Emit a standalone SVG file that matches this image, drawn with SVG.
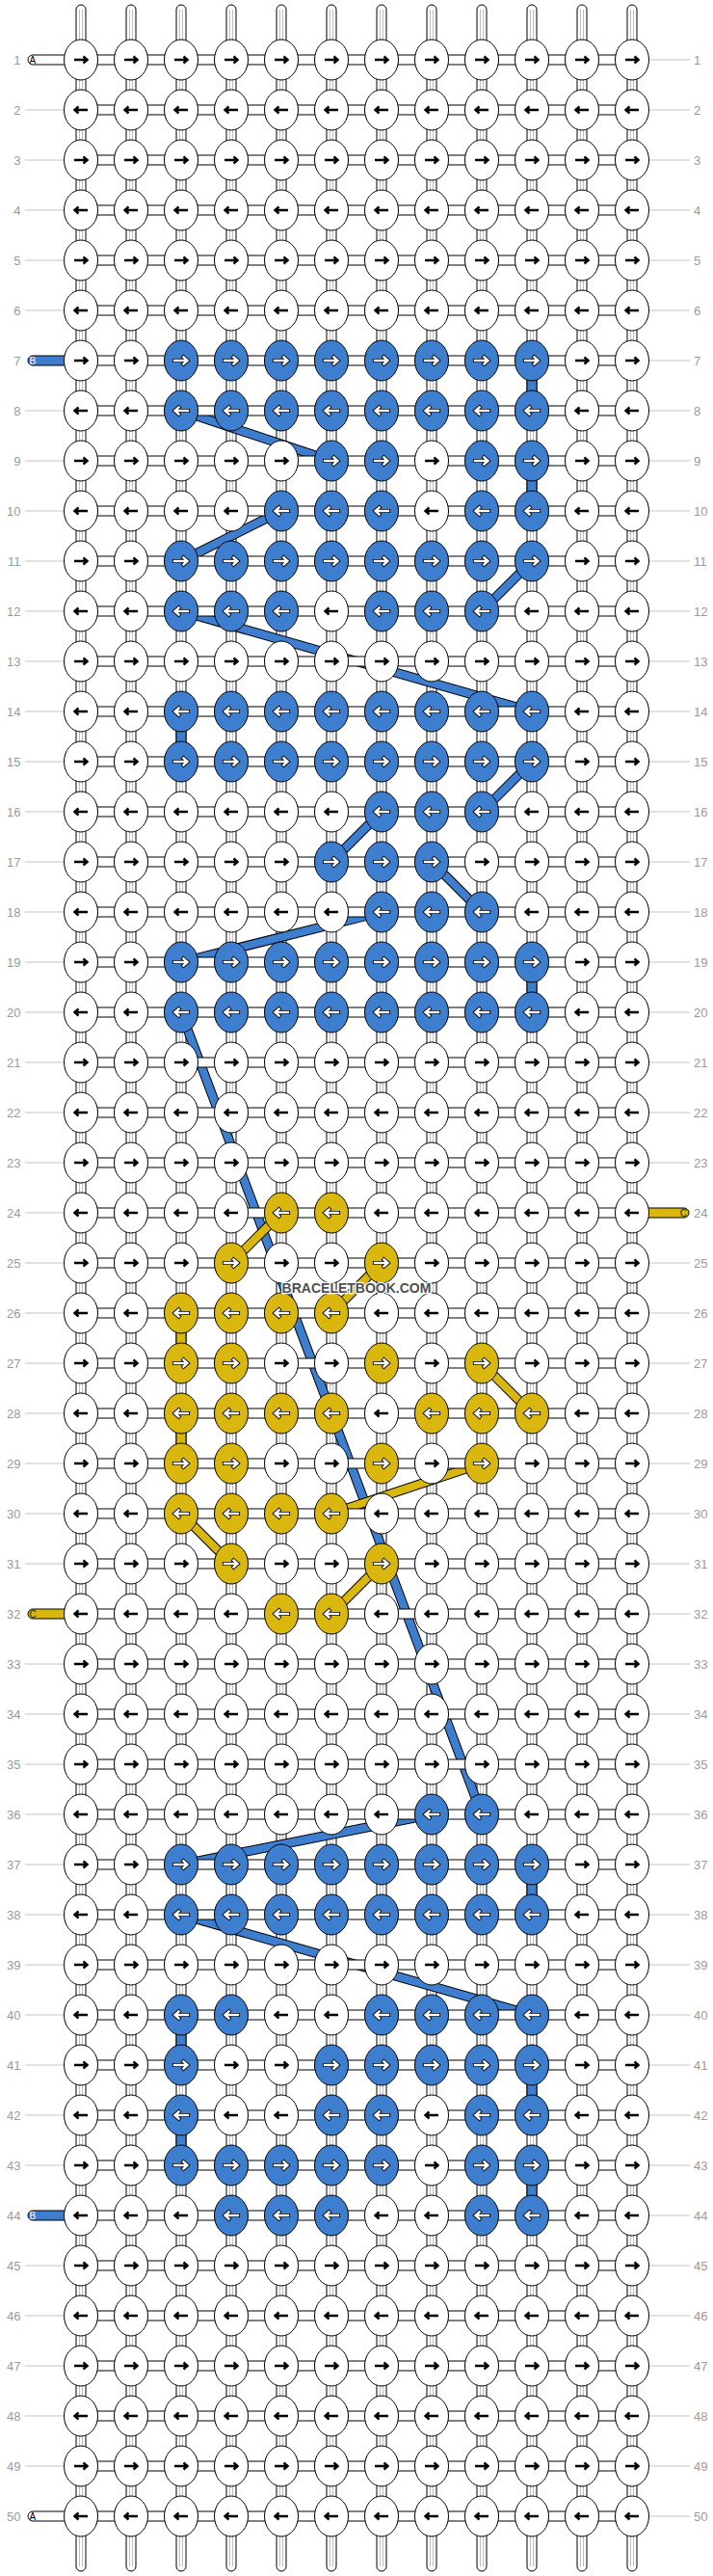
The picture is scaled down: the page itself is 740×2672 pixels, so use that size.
<svg xmlns="http://www.w3.org/2000/svg" width="740" height="2672" viewBox="0 0 740 2672">
<style>
.th{fill:#fff;stroke:#000;stroke-width:1}
.gl{stroke:#bdbdbd;stroke-width:1;fill:none}
.ll{stroke:#c4c4c4;stroke-width:1;fill:none}
.lbl{font-family:"Liberation Sans",Arial,sans-serif;font-size:13px;fill:#9a9a9a}
.ke{stroke:#000;stroke-width:1}
.ak{fill:none;stroke:#000;stroke-width:2.4}
.ao{fill:none;stroke:#000;stroke-width:4.2;stroke-linecap:square}
.ai{fill:none;stroke:#fff;stroke-width:2.4;stroke-linecap:square}
.ol{stroke:#000;stroke-width:10;fill:none}
.bl{stroke:#3e7ecf;stroke-width:8;fill:none}
.yl{stroke:#dab70f;stroke-width:8;fill:none}
.vb{fill:#3e7ecf;stroke:#000;stroke-width:1}
.vy{fill:#dab70f;stroke:#000;stroke-width:1}
.tag{font-family:"Liberation Sans",Arial,sans-serif;font-size:10px}
</style>
<defs>
<path id="pR" d="M-7 0H6M2.5-3.5L6.5 0L2.5 3.5"/>
<path id="pL" d="M7 0H-6M-2.5-3.5L-6.5 0L-2.5 3.5"/>
<g id="wR"><ellipse rx="17.5" ry="21" fill="#fff" class="ke"/><use href="#pR" class="ak"/></g>
<g id="wL"><ellipse rx="17.5" ry="21" fill="#fff" class="ke"/><use href="#pL" class="ak"/></g>
<g id="bR"><ellipse rx="17.5" ry="21" fill="#3e7ecf" class="ke"/><use href="#pR" class="ao"/><use href="#pR" class="ai"/></g>
<g id="bL"><ellipse rx="17.5" ry="21" fill="#3e7ecf" class="ke"/><use href="#pL" class="ao"/><use href="#pL" class="ai"/></g>
<g id="yR"><ellipse rx="17.5" ry="21" fill="#dab70f" class="ke"/><use href="#pR" class="ao"/><use href="#pR" class="ai"/></g>
<g id="yL"><ellipse rx="17.5" ry="21" fill="#dab70f" class="ke"/><use href="#pL" class="ao"/><use href="#pL" class="ai"/></g>
</defs>
<rect width="740" height="2672" fill="#fff"/>
<g id="row-labels">
<path class="ll" d="M26 114H67M26 166H67M26 218H67M26 270H67M26 322H67M26 426H67M26 478H67M26 530H67M26 582H67M26 634H67M26 686H67M26 738H67M26 790H67M26 842H67M26 894H67M26 946H67M26 998H67M26 1050H67M26 1102H67M26 1154H67M26 1206H67M26 1258H67M26 1310H67M26 1362H67M26 1414H67M26 1466H67M26 1518H67M26 1570H67M26 1622H67M26 1726H67M26 1778H67M26 1830H67M26 1882H67M26 1934H67M26 1986H67M26 2038H67M26 2090H67M26 2142H67M26 2194H67M26 2246H67M26 2350H67M26 2402H67M26 2454H67M26 2506H67M26 2558H67"/>
<path class="ll" d="M673 62H716M673 114H716M673 166H716M673 218H716M673 270H716M673 322H716M673 374H716M673 426H716M673 478H716M673 530H716M673 582H716M673 634H716M673 686H716M673 738H716M673 790H716M673 842H716M673 894H716M673 946H716M673 998H716M673 1050H716M673 1102H716M673 1154H716M673 1206H716M673 1310H716M673 1362H716M673 1414H716M673 1466H716M673 1518H716M673 1570H716M673 1622H716M673 1674H716M673 1726H716M673 1778H716M673 1830H716M673 1882H716M673 1934H716M673 1986H716M673 2038H716M673 2090H716M673 2142H716M673 2194H716M673 2246H716M673 2298H716M673 2350H716M673 2402H716M673 2454H716M673 2506H716M673 2558H716M673 2610H716"/>
<g class="lbl" text-anchor="end">
<text x="21.5" y="66.5">1</text><text x="21.5" y="118.5">2</text><text x="21.5" y="170.5">3</text><text x="21.5" y="222.5">4</text><text x="21.5" y="274.5">5</text><text x="21.5" y="326.5">6</text><text x="21.5" y="378.5">7</text><text x="21.5" y="430.5">8</text><text x="21.5" y="482.5">9</text><text x="21.5" y="534.5">10</text>
<text x="21.5" y="586.5">11</text><text x="21.5" y="638.5">12</text><text x="21.5" y="690.5">13</text><text x="21.5" y="742.5">14</text><text x="21.5" y="794.5">15</text><text x="21.5" y="846.5">16</text><text x="21.5" y="898.5">17</text><text x="21.5" y="950.5">18</text><text x="21.5" y="1002.5">19</text><text x="21.5" y="1054.5">20</text>
<text x="21.5" y="1106.5">21</text><text x="21.5" y="1158.5">22</text><text x="21.5" y="1210.5">23</text><text x="21.5" y="1262.5">24</text><text x="21.5" y="1314.5">25</text><text x="21.5" y="1366.5">26</text><text x="21.5" y="1418.5">27</text><text x="21.5" y="1470.5">28</text><text x="21.5" y="1522.5">29</text><text x="21.5" y="1574.5">30</text>
<text x="21.5" y="1626.5">31</text><text x="21.5" y="1678.5">32</text><text x="21.5" y="1730.5">33</text><text x="21.5" y="1782.5">34</text><text x="21.5" y="1834.5">35</text><text x="21.5" y="1886.5">36</text><text x="21.5" y="1938.5">37</text><text x="21.5" y="1990.5">38</text><text x="21.5" y="2042.5">39</text><text x="21.5" y="2094.5">40</text>
<text x="21.5" y="2146.5">41</text><text x="21.5" y="2198.5">42</text><text x="21.5" y="2250.5">43</text><text x="21.5" y="2302.5">44</text><text x="21.5" y="2354.5">45</text><text x="21.5" y="2406.5">46</text><text x="21.5" y="2458.5">47</text><text x="21.5" y="2510.5">48</text><text x="21.5" y="2562.5">49</text><text x="21.5" y="2614.5">50</text>
</g>
<g class="lbl">
<text x="720" y="66.5">1</text><text x="720" y="118.5">2</text><text x="720" y="170.5">3</text><text x="720" y="222.5">4</text><text x="720" y="274.5">5</text><text x="720" y="326.5">6</text><text x="720" y="378.5">7</text><text x="720" y="430.5">8</text><text x="720" y="482.5">9</text><text x="720" y="534.5">10</text>
<text x="720" y="586.5">11</text><text x="720" y="638.5">12</text><text x="720" y="690.5">13</text><text x="720" y="742.5">14</text><text x="720" y="794.5">15</text><text x="720" y="846.5">16</text><text x="720" y="898.5">17</text><text x="720" y="950.5">18</text><text x="720" y="1002.5">19</text><text x="720" y="1054.5">20</text>
<text x="720" y="1106.5">21</text><text x="720" y="1158.5">22</text><text x="720" y="1210.5">23</text><text x="720" y="1262.5">24</text><text x="720" y="1314.5">25</text><text x="720" y="1366.5">26</text><text x="720" y="1418.5">27</text><text x="720" y="1470.5">28</text><text x="720" y="1522.5">29</text><text x="720" y="1574.5">30</text>
<text x="720" y="1626.5">31</text><text x="720" y="1678.5">32</text><text x="720" y="1730.5">33</text><text x="720" y="1782.5">34</text><text x="720" y="1834.5">35</text><text x="720" y="1886.5">36</text><text x="720" y="1938.5">37</text><text x="720" y="1990.5">38</text><text x="720" y="2042.5">39</text><text x="720" y="2094.5">40</text>
<text x="720" y="2146.5">41</text><text x="720" y="2198.5">42</text><text x="720" y="2250.5">43</text><text x="720" y="2302.5">44</text><text x="720" y="2354.5">45</text><text x="720" y="2406.5">46</text><text x="720" y="2458.5">47</text><text x="720" y="2510.5">48</text><text x="720" y="2562.5">49</text><text x="720" y="2614.5">50</text>
</g>
</g>
<g id="vertical-threads">
<rect class="th" x="79" y="5" width="10" height="2662" rx="5"/><rect class="th" x="131" y="5" width="10" height="2662" rx="5"/><rect class="th" x="183" y="5" width="10" height="2662" rx="5"/><rect class="th" x="235" y="5" width="10" height="2662" rx="5"/><rect class="th" x="287" y="5" width="10" height="2662" rx="5"/><rect class="th" x="339" y="5" width="10" height="2662" rx="5"/><rect class="th" x="391" y="5" width="10" height="2662" rx="5"/><rect class="th" x="443" y="5" width="10" height="2662" rx="5"/><rect class="th" x="495" y="5" width="10" height="2662" rx="5"/><rect class="th" x="547" y="5" width="10" height="2662" rx="5"/><rect class="th" x="599" y="5" width="10" height="2662" rx="5"/><rect class="th" x="651" y="5" width="10" height="2662" rx="5"/>
<path class="gl" d="M82.5 10V2662M85.5 10V2662M134.5 10V2662M137.5 10V2662M186.5 10V2662M189.5 10V2662M238.5 10V2662M241.5 10V2662M290.5 10V2662M293.5 10V2662M342.5 10V2662M345.5 10V2662M394.5 10V2662M397.5 10V2662M446.5 10V2662M449.5 10V2662M498.5 10V2662M501.5 10V2662M550.5 10V2662M553.5 10V2662M602.5 10V2662M605.5 10V2662M654.5 10V2662M657.5 10V2662"/>
</g>
<g id="connectors">
<g id="blue-path">
<path class="ol" d="M188 426L344 478M292 530L188 582M552 582L500 634M188 634L552 738M552 790L500 842M396 842L344 894M448 894L500 946M396 946L188 998M188 1050L500 1882M448 1882L188 1934M188 1986L552 2090"/>
<path class="bl" d="M188 426L344 478M292 530L188 582M552 582L500 634M188 634L552 738M552 790L500 842M396 842L344 894M448 894L500 946M396 946L188 998M188 1050L500 1882M448 1882L188 1934M188 1986L552 2090"/>
</g>
<g id="yellow-path">
<path class="ol" d="M292 1258L240 1310M396 1310L344 1362M500 1414L552 1466M500 1518L344 1570M188 1570L240 1622M396 1622L344 1674"/>
<path class="yl" d="M292 1258L240 1310M396 1310L344 1362M500 1414L552 1466M500 1518L344 1570M188 1570L240 1622M396 1622L344 1674"/>
</g>
</g>
<g id="horizontal-threads">
<rect class="th" x="84" y="57" width="572" height="10"/><rect class="th" x="84" y="109" width="572" height="10"/><rect class="th" x="84" y="161" width="572" height="10"/><rect class="th" x="84" y="213" width="572" height="10"/><rect class="th" x="84" y="265" width="572" height="10"/><rect class="th" x="84" y="317" width="572" height="10"/><rect class="th" x="84" y="369" width="572" height="10"/><rect class="th" x="84" y="421" width="572" height="10"/><rect class="th" x="84" y="473" width="572" height="10"/><rect class="th" x="84" y="525" width="572" height="10"/>
<rect class="th" x="84" y="577" width="572" height="10"/><rect class="th" x="84" y="629" width="572" height="10"/><rect class="th" x="84" y="681" width="572" height="10"/><rect class="th" x="84" y="733" width="572" height="10"/><rect class="th" x="84" y="785" width="572" height="10"/><rect class="th" x="84" y="837" width="572" height="10"/><rect class="th" x="84" y="889" width="572" height="10"/><rect class="th" x="84" y="941" width="572" height="10"/><rect class="th" x="84" y="993" width="572" height="10"/><rect class="th" x="84" y="1045" width="572" height="10"/>
<rect class="th" x="84" y="1097" width="572" height="10"/><rect class="th" x="84" y="1149" width="572" height="10"/><rect class="th" x="84" y="1201" width="572" height="10"/><rect class="th" x="84" y="1253" width="572" height="10"/><rect class="th" x="84" y="1305" width="572" height="10"/><rect class="th" x="84" y="1357" width="572" height="10"/><rect class="th" x="84" y="1409" width="572" height="10"/><rect class="th" x="84" y="1461" width="572" height="10"/><rect class="th" x="84" y="1513" width="572" height="10"/><rect class="th" x="84" y="1565" width="572" height="10"/>
<rect class="th" x="84" y="1617" width="572" height="10"/><rect class="th" x="84" y="1669" width="572" height="10"/><rect class="th" x="84" y="1721" width="572" height="10"/><rect class="th" x="84" y="1773" width="572" height="10"/><rect class="th" x="84" y="1825" width="572" height="10"/><rect class="th" x="84" y="1877" width="572" height="10"/><rect class="th" x="84" y="1929" width="572" height="10"/><rect class="th" x="84" y="1981" width="572" height="10"/><rect class="th" x="84" y="2033" width="572" height="10"/><rect class="th" x="84" y="2085" width="572" height="10"/>
<rect class="th" x="84" y="2137" width="572" height="10"/><rect class="th" x="84" y="2189" width="572" height="10"/><rect class="th" x="84" y="2241" width="572" height="10"/><rect class="th" x="84" y="2293" width="572" height="10"/><rect class="th" x="84" y="2345" width="572" height="10"/><rect class="th" x="84" y="2397" width="572" height="10"/><rect class="th" x="84" y="2449" width="572" height="10"/><rect class="th" x="84" y="2501" width="572" height="10"/><rect class="th" x="84" y="2553" width="572" height="10"/><rect class="th" x="84" y="2605" width="572" height="10"/>
</g>
<g id="turns">
<rect class="vb" x="547" y="374" width="10" height="52"/><rect class="vb" x="547" y="478" width="10" height="52"/><rect class="vb" x="183" y="738" width="10" height="52"/><rect class="vb" x="547" y="998" width="10" height="52"/><rect class="vb" x="547" y="1934" width="10" height="52"/><rect class="vb" x="183" y="2090" width="10" height="52"/><rect class="vb" x="547" y="2142" width="10" height="52"/><rect class="vb" x="183" y="2194" width="10" height="52"/><rect class="vb" x="547" y="2246" width="10" height="52"/>
<rect class="vy" x="183" y="1362" width="10" height="52"/><rect class="vy" x="183" y="1466" width="10" height="52"/>
</g>
<g id="thread-tags">
<g id="tag-a1"><rect class="th" x="29" y="57" width="60" height="10" rx="5"/><text class="tag" x="30.5" y="65.6" fill="#000">A</text></g>
<g id="tag-b7"><rect class="vb" x="29" y="369" width="60" height="10" rx="5"/><text class="tag" x="30.5" y="377.6" fill="#fff">B</text></g>
<g id="tag-c24"><rect class="vy" x="651" y="1253" width="64" height="10" rx="5"/><text class="tag" x="713" y="1261.6" fill="#222" text-anchor="end">C</text></g>
<g id="tag-c32"><rect class="vy" x="29" y="1669" width="60" height="10" rx="5"/><text class="tag" x="30.5" y="1677.6" fill="#222">C</text></g>
<g id="tag-b44"><rect class="vb" x="29" y="2293" width="60" height="10" rx="5"/><text class="tag" x="30.5" y="2301.6" fill="#fff">B</text></g>
<g id="tag-a50"><rect class="th" x="29" y="2605" width="60" height="10" rx="5"/><text class="tag" x="30.5" y="2613.6" fill="#000">A</text></g>
</g>
<g id="knots">
<g transform="translate(0 62)"><g id="n1-1"><use href="#wR" x="84"/></g><g id="n1-2"><use href="#wR" x="136"/></g><g id="n1-3"><use href="#wR" x="188"/></g><g id="n1-4"><use href="#wR" x="240"/></g><g id="n1-5"><use href="#wR" x="292"/></g><g id="n1-6"><use href="#wR" x="344"/></g><g id="n1-7"><use href="#wR" x="396"/></g><g id="n1-8"><use href="#wR" x="448"/></g><g id="n1-9"><use href="#wR" x="500"/></g><g id="n1-10"><use href="#wR" x="552"/></g><g id="n1-11"><use href="#wR" x="604"/></g><g id="n1-12"><use href="#wR" x="656"/></g></g>
<g transform="translate(0 114)"><g id="n2-1"><use href="#wL" x="84"/></g><g id="n2-2"><use href="#wL" x="136"/></g><g id="n2-3"><use href="#wL" x="188"/></g><g id="n2-4"><use href="#wL" x="240"/></g><g id="n2-5"><use href="#wL" x="292"/></g><g id="n2-6"><use href="#wL" x="344"/></g><g id="n2-7"><use href="#wL" x="396"/></g><g id="n2-8"><use href="#wL" x="448"/></g><g id="n2-9"><use href="#wL" x="500"/></g><g id="n2-10"><use href="#wL" x="552"/></g><g id="n2-11"><use href="#wL" x="604"/></g><g id="n2-12"><use href="#wL" x="656"/></g></g>
<g transform="translate(0 166)"><g id="n3-1"><use href="#wR" x="84"/></g><g id="n3-2"><use href="#wR" x="136"/></g><g id="n3-3"><use href="#wR" x="188"/></g><g id="n3-4"><use href="#wR" x="240"/></g><g id="n3-5"><use href="#wR" x="292"/></g><g id="n3-6"><use href="#wR" x="344"/></g><g id="n3-7"><use href="#wR" x="396"/></g><g id="n3-8"><use href="#wR" x="448"/></g><g id="n3-9"><use href="#wR" x="500"/></g><g id="n3-10"><use href="#wR" x="552"/></g><g id="n3-11"><use href="#wR" x="604"/></g><g id="n3-12"><use href="#wR" x="656"/></g></g>
<g transform="translate(0 218)"><g id="n4-1"><use href="#wL" x="84"/></g><g id="n4-2"><use href="#wL" x="136"/></g><g id="n4-3"><use href="#wL" x="188"/></g><g id="n4-4"><use href="#wL" x="240"/></g><g id="n4-5"><use href="#wL" x="292"/></g><g id="n4-6"><use href="#wL" x="344"/></g><g id="n4-7"><use href="#wL" x="396"/></g><g id="n4-8"><use href="#wL" x="448"/></g><g id="n4-9"><use href="#wL" x="500"/></g><g id="n4-10"><use href="#wL" x="552"/></g><g id="n4-11"><use href="#wL" x="604"/></g><g id="n4-12"><use href="#wL" x="656"/></g></g>
<g transform="translate(0 270)"><g id="n5-1"><use href="#wR" x="84"/></g><g id="n5-2"><use href="#wR" x="136"/></g><g id="n5-3"><use href="#wR" x="188"/></g><g id="n5-4"><use href="#wR" x="240"/></g><g id="n5-5"><use href="#wR" x="292"/></g><g id="n5-6"><use href="#wR" x="344"/></g><g id="n5-7"><use href="#wR" x="396"/></g><g id="n5-8"><use href="#wR" x="448"/></g><g id="n5-9"><use href="#wR" x="500"/></g><g id="n5-10"><use href="#wR" x="552"/></g><g id="n5-11"><use href="#wR" x="604"/></g><g id="n5-12"><use href="#wR" x="656"/></g></g>
<g transform="translate(0 322)"><g id="n6-1"><use href="#wL" x="84"/></g><g id="n6-2"><use href="#wL" x="136"/></g><g id="n6-3"><use href="#wL" x="188"/></g><g id="n6-4"><use href="#wL" x="240"/></g><g id="n6-5"><use href="#wL" x="292"/></g><g id="n6-6"><use href="#wL" x="344"/></g><g id="n6-7"><use href="#wL" x="396"/></g><g id="n6-8"><use href="#wL" x="448"/></g><g id="n6-9"><use href="#wL" x="500"/></g><g id="n6-10"><use href="#wL" x="552"/></g><g id="n6-11"><use href="#wL" x="604"/></g><g id="n6-12"><use href="#wL" x="656"/></g></g>
<g transform="translate(0 374)"><g id="n7-1"><use href="#wR" x="84"/></g><g id="n7-2"><use href="#wR" x="136"/></g><g id="n7-3"><use href="#bR" x="188"/></g><g id="n7-4"><use href="#bR" x="240"/></g><g id="n7-5"><use href="#bR" x="292"/></g><g id="n7-6"><use href="#bR" x="344"/></g><g id="n7-7"><use href="#bR" x="396"/></g><g id="n7-8"><use href="#bR" x="448"/></g><g id="n7-9"><use href="#bR" x="500"/></g><g id="n7-10"><use href="#bR" x="552"/></g><g id="n7-11"><use href="#wR" x="604"/></g><g id="n7-12"><use href="#wR" x="656"/></g></g>
<g transform="translate(0 426)"><g id="n8-1"><use href="#wL" x="84"/></g><g id="n8-2"><use href="#wL" x="136"/></g><g id="n8-3"><use href="#bL" x="188"/></g><g id="n8-4"><use href="#bL" x="240"/></g><g id="n8-5"><use href="#bL" x="292"/></g><g id="n8-6"><use href="#bL" x="344"/></g><g id="n8-7"><use href="#bL" x="396"/></g><g id="n8-8"><use href="#bL" x="448"/></g><g id="n8-9"><use href="#bL" x="500"/></g><g id="n8-10"><use href="#bL" x="552"/></g><g id="n8-11"><use href="#wL" x="604"/></g><g id="n8-12"><use href="#wL" x="656"/></g></g>
<g transform="translate(0 478)"><g id="n9-1"><use href="#wR" x="84"/></g><g id="n9-2"><use href="#wR" x="136"/></g><g id="n9-3"><use href="#wR" x="188"/></g><g id="n9-4"><use href="#wR" x="240"/></g><g id="n9-5"><use href="#wR" x="292"/></g><g id="n9-6"><use href="#bR" x="344"/></g><g id="n9-7"><use href="#bR" x="396"/></g><g id="n9-8"><use href="#wR" x="448"/></g><g id="n9-9"><use href="#bR" x="500"/></g><g id="n9-10"><use href="#bR" x="552"/></g><g id="n9-11"><use href="#wR" x="604"/></g><g id="n9-12"><use href="#wR" x="656"/></g></g>
<g transform="translate(0 530)"><g id="n10-1"><use href="#wL" x="84"/></g><g id="n10-2"><use href="#wL" x="136"/></g><g id="n10-3"><use href="#wL" x="188"/></g><g id="n10-4"><use href="#wL" x="240"/></g><g id="n10-5"><use href="#bL" x="292"/></g><g id="n10-6"><use href="#bL" x="344"/></g><g id="n10-7"><use href="#bL" x="396"/></g><g id="n10-8"><use href="#wL" x="448"/></g><g id="n10-9"><use href="#bL" x="500"/></g><g id="n10-10"><use href="#bL" x="552"/></g><g id="n10-11"><use href="#wL" x="604"/></g><g id="n10-12"><use href="#wL" x="656"/></g></g>
<g transform="translate(0 582)"><g id="n11-1"><use href="#wR" x="84"/></g><g id="n11-2"><use href="#wR" x="136"/></g><g id="n11-3"><use href="#bR" x="188"/></g><g id="n11-4"><use href="#bR" x="240"/></g><g id="n11-5"><use href="#bR" x="292"/></g><g id="n11-6"><use href="#bR" x="344"/></g><g id="n11-7"><use href="#bR" x="396"/></g><g id="n11-8"><use href="#bR" x="448"/></g><g id="n11-9"><use href="#bR" x="500"/></g><g id="n11-10"><use href="#bR" x="552"/></g><g id="n11-11"><use href="#wR" x="604"/></g><g id="n11-12"><use href="#wR" x="656"/></g></g>
<g transform="translate(0 634)"><g id="n12-1"><use href="#wL" x="84"/></g><g id="n12-2"><use href="#wL" x="136"/></g><g id="n12-3"><use href="#bL" x="188"/></g><g id="n12-4"><use href="#bL" x="240"/></g><g id="n12-5"><use href="#bL" x="292"/></g><g id="n12-6"><use href="#wL" x="344"/></g><g id="n12-7"><use href="#bL" x="396"/></g><g id="n12-8"><use href="#bL" x="448"/></g><g id="n12-9"><use href="#bL" x="500"/></g><g id="n12-10"><use href="#wL" x="552"/></g><g id="n12-11"><use href="#wL" x="604"/></g><g id="n12-12"><use href="#wL" x="656"/></g></g>
<g transform="translate(0 686)"><g id="n13-1"><use href="#wR" x="84"/></g><g id="n13-2"><use href="#wR" x="136"/></g><g id="n13-3"><use href="#wR" x="188"/></g><g id="n13-4"><use href="#wR" x="240"/></g><g id="n13-5"><use href="#wR" x="292"/></g><g id="n13-6"><use href="#wR" x="344"/></g><g id="n13-7"><use href="#wR" x="396"/></g><g id="n13-8"><use href="#wR" x="448"/></g><g id="n13-9"><use href="#wR" x="500"/></g><g id="n13-10"><use href="#wR" x="552"/></g><g id="n13-11"><use href="#wR" x="604"/></g><g id="n13-12"><use href="#wR" x="656"/></g></g>
<g transform="translate(0 738)"><g id="n14-1"><use href="#wL" x="84"/></g><g id="n14-2"><use href="#wL" x="136"/></g><g id="n14-3"><use href="#bL" x="188"/></g><g id="n14-4"><use href="#bL" x="240"/></g><g id="n14-5"><use href="#bL" x="292"/></g><g id="n14-6"><use href="#bL" x="344"/></g><g id="n14-7"><use href="#bL" x="396"/></g><g id="n14-8"><use href="#bL" x="448"/></g><g id="n14-9"><use href="#bL" x="500"/></g><g id="n14-10"><use href="#bL" x="552"/></g><g id="n14-11"><use href="#wL" x="604"/></g><g id="n14-12"><use href="#wL" x="656"/></g></g>
<g transform="translate(0 790)"><g id="n15-1"><use href="#wR" x="84"/></g><g id="n15-2"><use href="#wR" x="136"/></g><g id="n15-3"><use href="#bR" x="188"/></g><g id="n15-4"><use href="#bR" x="240"/></g><g id="n15-5"><use href="#bR" x="292"/></g><g id="n15-6"><use href="#bR" x="344"/></g><g id="n15-7"><use href="#bR" x="396"/></g><g id="n15-8"><use href="#bR" x="448"/></g><g id="n15-9"><use href="#bR" x="500"/></g><g id="n15-10"><use href="#bR" x="552"/></g><g id="n15-11"><use href="#wR" x="604"/></g><g id="n15-12"><use href="#wR" x="656"/></g></g>
<g transform="translate(0 842)"><g id="n16-1"><use href="#wL" x="84"/></g><g id="n16-2"><use href="#wL" x="136"/></g><g id="n16-3"><use href="#wL" x="188"/></g><g id="n16-4"><use href="#wL" x="240"/></g><g id="n16-5"><use href="#wL" x="292"/></g><g id="n16-6"><use href="#wL" x="344"/></g><g id="n16-7"><use href="#bL" x="396"/></g><g id="n16-8"><use href="#bL" x="448"/></g><g id="n16-9"><use href="#bL" x="500"/></g><g id="n16-10"><use href="#wL" x="552"/></g><g id="n16-11"><use href="#wL" x="604"/></g><g id="n16-12"><use href="#wL" x="656"/></g></g>
<g transform="translate(0 894)"><g id="n17-1"><use href="#wR" x="84"/></g><g id="n17-2"><use href="#wR" x="136"/></g><g id="n17-3"><use href="#wR" x="188"/></g><g id="n17-4"><use href="#wR" x="240"/></g><g id="n17-5"><use href="#wR" x="292"/></g><g id="n17-6"><use href="#bR" x="344"/></g><g id="n17-7"><use href="#bR" x="396"/></g><g id="n17-8"><use href="#bR" x="448"/></g><g id="n17-9"><use href="#wR" x="500"/></g><g id="n17-10"><use href="#wR" x="552"/></g><g id="n17-11"><use href="#wR" x="604"/></g><g id="n17-12"><use href="#wR" x="656"/></g></g>
<g transform="translate(0 946)"><g id="n18-1"><use href="#wL" x="84"/></g><g id="n18-2"><use href="#wL" x="136"/></g><g id="n18-3"><use href="#wL" x="188"/></g><g id="n18-4"><use href="#wL" x="240"/></g><g id="n18-5"><use href="#wL" x="292"/></g><g id="n18-6"><use href="#wL" x="344"/></g><g id="n18-7"><use href="#bL" x="396"/></g><g id="n18-8"><use href="#bL" x="448"/></g><g id="n18-9"><use href="#bL" x="500"/></g><g id="n18-10"><use href="#wL" x="552"/></g><g id="n18-11"><use href="#wL" x="604"/></g><g id="n18-12"><use href="#wL" x="656"/></g></g>
<g transform="translate(0 998)"><g id="n19-1"><use href="#wR" x="84"/></g><g id="n19-2"><use href="#wR" x="136"/></g><g id="n19-3"><use href="#bR" x="188"/></g><g id="n19-4"><use href="#bR" x="240"/></g><g id="n19-5"><use href="#bR" x="292"/></g><g id="n19-6"><use href="#bR" x="344"/></g><g id="n19-7"><use href="#bR" x="396"/></g><g id="n19-8"><use href="#bR" x="448"/></g><g id="n19-9"><use href="#bR" x="500"/></g><g id="n19-10"><use href="#bR" x="552"/></g><g id="n19-11"><use href="#wR" x="604"/></g><g id="n19-12"><use href="#wR" x="656"/></g></g>
<g transform="translate(0 1050)"><g id="n20-1"><use href="#wL" x="84"/></g><g id="n20-2"><use href="#wL" x="136"/></g><g id="n20-3"><use href="#bL" x="188"/></g><g id="n20-4"><use href="#bL" x="240"/></g><g id="n20-5"><use href="#bL" x="292"/></g><g id="n20-6"><use href="#bL" x="344"/></g><g id="n20-7"><use href="#bL" x="396"/></g><g id="n20-8"><use href="#bL" x="448"/></g><g id="n20-9"><use href="#bL" x="500"/></g><g id="n20-10"><use href="#bL" x="552"/></g><g id="n20-11"><use href="#wL" x="604"/></g><g id="n20-12"><use href="#wL" x="656"/></g></g>
<g transform="translate(0 1102)"><g id="n21-1"><use href="#wR" x="84"/></g><g id="n21-2"><use href="#wR" x="136"/></g><g id="n21-3"><use href="#wR" x="188"/></g><g id="n21-4"><use href="#wR" x="240"/></g><g id="n21-5"><use href="#wR" x="292"/></g><g id="n21-6"><use href="#wR" x="344"/></g><g id="n21-7"><use href="#wR" x="396"/></g><g id="n21-8"><use href="#wR" x="448"/></g><g id="n21-9"><use href="#wR" x="500"/></g><g id="n21-10"><use href="#wR" x="552"/></g><g id="n21-11"><use href="#wR" x="604"/></g><g id="n21-12"><use href="#wR" x="656"/></g></g>
<g transform="translate(0 1154)"><g id="n22-1"><use href="#wL" x="84"/></g><g id="n22-2"><use href="#wL" x="136"/></g><g id="n22-3"><use href="#wL" x="188"/></g><g id="n22-4"><use href="#wL" x="240"/></g><g id="n22-5"><use href="#wL" x="292"/></g><g id="n22-6"><use href="#wL" x="344"/></g><g id="n22-7"><use href="#wL" x="396"/></g><g id="n22-8"><use href="#wL" x="448"/></g><g id="n22-9"><use href="#wL" x="500"/></g><g id="n22-10"><use href="#wL" x="552"/></g><g id="n22-11"><use href="#wL" x="604"/></g><g id="n22-12"><use href="#wL" x="656"/></g></g>
<g transform="translate(0 1206)"><g id="n23-1"><use href="#wR" x="84"/></g><g id="n23-2"><use href="#wR" x="136"/></g><g id="n23-3"><use href="#wR" x="188"/></g><g id="n23-4"><use href="#wR" x="240"/></g><g id="n23-5"><use href="#wR" x="292"/></g><g id="n23-6"><use href="#wR" x="344"/></g><g id="n23-7"><use href="#wR" x="396"/></g><g id="n23-8"><use href="#wR" x="448"/></g><g id="n23-9"><use href="#wR" x="500"/></g><g id="n23-10"><use href="#wR" x="552"/></g><g id="n23-11"><use href="#wR" x="604"/></g><g id="n23-12"><use href="#wR" x="656"/></g></g>
<g transform="translate(0 1258)"><g id="n24-1"><use href="#wL" x="84"/></g><g id="n24-2"><use href="#wL" x="136"/></g><g id="n24-3"><use href="#wL" x="188"/></g><g id="n24-4"><use href="#wL" x="240"/></g><g id="n24-5"><use href="#yL" x="292"/></g><g id="n24-6"><use href="#yL" x="344"/></g><g id="n24-7"><use href="#wL" x="396"/></g><g id="n24-8"><use href="#wL" x="448"/></g><g id="n24-9"><use href="#wL" x="500"/></g><g id="n24-10"><use href="#wL" x="552"/></g><g id="n24-11"><use href="#wL" x="604"/></g><g id="n24-12"><use href="#wL" x="656"/></g></g>
<g transform="translate(0 1310)"><g id="n25-1"><use href="#wR" x="84"/></g><g id="n25-2"><use href="#wR" x="136"/></g><g id="n25-3"><use href="#wR" x="188"/></g><g id="n25-4"><use href="#yR" x="240"/></g><g id="n25-5"><use href="#wR" x="292"/></g><g id="n25-6"><use href="#wR" x="344"/></g><g id="n25-7"><use href="#yR" x="396"/></g><g id="n25-8"><use href="#wR" x="448"/></g><g id="n25-9"><use href="#wR" x="500"/></g><g id="n25-10"><use href="#wR" x="552"/></g><g id="n25-11"><use href="#wR" x="604"/></g><g id="n25-12"><use href="#wR" x="656"/></g></g>
<g transform="translate(0 1362)"><g id="n26-1"><use href="#wL" x="84"/></g><g id="n26-2"><use href="#wL" x="136"/></g><g id="n26-3"><use href="#yL" x="188"/></g><g id="n26-4"><use href="#yL" x="240"/></g><g id="n26-5"><use href="#yL" x="292"/></g><g id="n26-6"><use href="#yL" x="344"/></g><g id="n26-7"><use href="#wL" x="396"/></g><g id="n26-8"><use href="#wL" x="448"/></g><g id="n26-9"><use href="#wL" x="500"/></g><g id="n26-10"><use href="#wL" x="552"/></g><g id="n26-11"><use href="#wL" x="604"/></g><g id="n26-12"><use href="#wL" x="656"/></g></g>
<g transform="translate(0 1414)"><g id="n27-1"><use href="#wR" x="84"/></g><g id="n27-2"><use href="#wR" x="136"/></g><g id="n27-3"><use href="#yR" x="188"/></g><g id="n27-4"><use href="#yR" x="240"/></g><g id="n27-5"><use href="#wR" x="292"/></g><g id="n27-6"><use href="#wR" x="344"/></g><g id="n27-7"><use href="#yR" x="396"/></g><g id="n27-8"><use href="#wR" x="448"/></g><g id="n27-9"><use href="#yR" x="500"/></g><g id="n27-10"><use href="#wR" x="552"/></g><g id="n27-11"><use href="#wR" x="604"/></g><g id="n27-12"><use href="#wR" x="656"/></g></g>
<g transform="translate(0 1466)"><g id="n28-1"><use href="#wL" x="84"/></g><g id="n28-2"><use href="#wL" x="136"/></g><g id="n28-3"><use href="#yL" x="188"/></g><g id="n28-4"><use href="#yL" x="240"/></g><g id="n28-5"><use href="#yL" x="292"/></g><g id="n28-6"><use href="#yL" x="344"/></g><g id="n28-7"><use href="#wL" x="396"/></g><g id="n28-8"><use href="#yL" x="448"/></g><g id="n28-9"><use href="#yL" x="500"/></g><g id="n28-10"><use href="#yL" x="552"/></g><g id="n28-11"><use href="#wL" x="604"/></g><g id="n28-12"><use href="#wL" x="656"/></g></g>
<g transform="translate(0 1518)"><g id="n29-1"><use href="#wR" x="84"/></g><g id="n29-2"><use href="#wR" x="136"/></g><g id="n29-3"><use href="#yR" x="188"/></g><g id="n29-4"><use href="#yR" x="240"/></g><g id="n29-5"><use href="#wR" x="292"/></g><g id="n29-6"><use href="#wR" x="344"/></g><g id="n29-7"><use href="#yR" x="396"/></g><g id="n29-8"><use href="#wR" x="448"/></g><g id="n29-9"><use href="#yR" x="500"/></g><g id="n29-10"><use href="#wR" x="552"/></g><g id="n29-11"><use href="#wR" x="604"/></g><g id="n29-12"><use href="#wR" x="656"/></g></g>
<g transform="translate(0 1570)"><g id="n30-1"><use href="#wL" x="84"/></g><g id="n30-2"><use href="#wL" x="136"/></g><g id="n30-3"><use href="#yL" x="188"/></g><g id="n30-4"><use href="#yL" x="240"/></g><g id="n30-5"><use href="#yL" x="292"/></g><g id="n30-6"><use href="#yL" x="344"/></g><g id="n30-7"><use href="#wL" x="396"/></g><g id="n30-8"><use href="#wL" x="448"/></g><g id="n30-9"><use href="#wL" x="500"/></g><g id="n30-10"><use href="#wL" x="552"/></g><g id="n30-11"><use href="#wL" x="604"/></g><g id="n30-12"><use href="#wL" x="656"/></g></g>
<g transform="translate(0 1622)"><g id="n31-1"><use href="#wR" x="84"/></g><g id="n31-2"><use href="#wR" x="136"/></g><g id="n31-3"><use href="#wR" x="188"/></g><g id="n31-4"><use href="#yR" x="240"/></g><g id="n31-5"><use href="#wR" x="292"/></g><g id="n31-6"><use href="#wR" x="344"/></g><g id="n31-7"><use href="#yR" x="396"/></g><g id="n31-8"><use href="#wR" x="448"/></g><g id="n31-9"><use href="#wR" x="500"/></g><g id="n31-10"><use href="#wR" x="552"/></g><g id="n31-11"><use href="#wR" x="604"/></g><g id="n31-12"><use href="#wR" x="656"/></g></g>
<g transform="translate(0 1674)"><g id="n32-1"><use href="#wL" x="84"/></g><g id="n32-2"><use href="#wL" x="136"/></g><g id="n32-3"><use href="#wL" x="188"/></g><g id="n32-4"><use href="#wL" x="240"/></g><g id="n32-5"><use href="#yL" x="292"/></g><g id="n32-6"><use href="#yL" x="344"/></g><g id="n32-7"><use href="#wL" x="396"/></g><g id="n32-8"><use href="#wL" x="448"/></g><g id="n32-9"><use href="#wL" x="500"/></g><g id="n32-10"><use href="#wL" x="552"/></g><g id="n32-11"><use href="#wL" x="604"/></g><g id="n32-12"><use href="#wL" x="656"/></g></g>
<g transform="translate(0 1726)"><g id="n33-1"><use href="#wR" x="84"/></g><g id="n33-2"><use href="#wR" x="136"/></g><g id="n33-3"><use href="#wR" x="188"/></g><g id="n33-4"><use href="#wR" x="240"/></g><g id="n33-5"><use href="#wR" x="292"/></g><g id="n33-6"><use href="#wR" x="344"/></g><g id="n33-7"><use href="#wR" x="396"/></g><g id="n33-8"><use href="#wR" x="448"/></g><g id="n33-9"><use href="#wR" x="500"/></g><g id="n33-10"><use href="#wR" x="552"/></g><g id="n33-11"><use href="#wR" x="604"/></g><g id="n33-12"><use href="#wR" x="656"/></g></g>
<g transform="translate(0 1778)"><g id="n34-1"><use href="#wL" x="84"/></g><g id="n34-2"><use href="#wL" x="136"/></g><g id="n34-3"><use href="#wL" x="188"/></g><g id="n34-4"><use href="#wL" x="240"/></g><g id="n34-5"><use href="#wL" x="292"/></g><g id="n34-6"><use href="#wL" x="344"/></g><g id="n34-7"><use href="#wL" x="396"/></g><g id="n34-8"><use href="#wL" x="448"/></g><g id="n34-9"><use href="#wL" x="500"/></g><g id="n34-10"><use href="#wL" x="552"/></g><g id="n34-11"><use href="#wL" x="604"/></g><g id="n34-12"><use href="#wL" x="656"/></g></g>
<g transform="translate(0 1830)"><g id="n35-1"><use href="#wR" x="84"/></g><g id="n35-2"><use href="#wR" x="136"/></g><g id="n35-3"><use href="#wR" x="188"/></g><g id="n35-4"><use href="#wR" x="240"/></g><g id="n35-5"><use href="#wR" x="292"/></g><g id="n35-6"><use href="#wR" x="344"/></g><g id="n35-7"><use href="#wR" x="396"/></g><g id="n35-8"><use href="#wR" x="448"/></g><g id="n35-9"><use href="#wR" x="500"/></g><g id="n35-10"><use href="#wR" x="552"/></g><g id="n35-11"><use href="#wR" x="604"/></g><g id="n35-12"><use href="#wR" x="656"/></g></g>
<g transform="translate(0 1882)"><g id="n36-1"><use href="#wL" x="84"/></g><g id="n36-2"><use href="#wL" x="136"/></g><g id="n36-3"><use href="#wL" x="188"/></g><g id="n36-4"><use href="#wL" x="240"/></g><g id="n36-5"><use href="#wL" x="292"/></g><g id="n36-6"><use href="#wL" x="344"/></g><g id="n36-7"><use href="#wL" x="396"/></g><g id="n36-8"><use href="#bL" x="448"/></g><g id="n36-9"><use href="#bL" x="500"/></g><g id="n36-10"><use href="#wL" x="552"/></g><g id="n36-11"><use href="#wL" x="604"/></g><g id="n36-12"><use href="#wL" x="656"/></g></g>
<g transform="translate(0 1934)"><g id="n37-1"><use href="#wR" x="84"/></g><g id="n37-2"><use href="#wR" x="136"/></g><g id="n37-3"><use href="#bR" x="188"/></g><g id="n37-4"><use href="#bR" x="240"/></g><g id="n37-5"><use href="#bR" x="292"/></g><g id="n37-6"><use href="#bR" x="344"/></g><g id="n37-7"><use href="#bR" x="396"/></g><g id="n37-8"><use href="#bR" x="448"/></g><g id="n37-9"><use href="#bR" x="500"/></g><g id="n37-10"><use href="#bR" x="552"/></g><g id="n37-11"><use href="#wR" x="604"/></g><g id="n37-12"><use href="#wR" x="656"/></g></g>
<g transform="translate(0 1986)"><g id="n38-1"><use href="#wL" x="84"/></g><g id="n38-2"><use href="#wL" x="136"/></g><g id="n38-3"><use href="#bL" x="188"/></g><g id="n38-4"><use href="#bL" x="240"/></g><g id="n38-5"><use href="#bL" x="292"/></g><g id="n38-6"><use href="#bL" x="344"/></g><g id="n38-7"><use href="#bL" x="396"/></g><g id="n38-8"><use href="#bL" x="448"/></g><g id="n38-9"><use href="#bL" x="500"/></g><g id="n38-10"><use href="#bL" x="552"/></g><g id="n38-11"><use href="#wL" x="604"/></g><g id="n38-12"><use href="#wL" x="656"/></g></g>
<g transform="translate(0 2038)"><g id="n39-1"><use href="#wR" x="84"/></g><g id="n39-2"><use href="#wR" x="136"/></g><g id="n39-3"><use href="#wR" x="188"/></g><g id="n39-4"><use href="#wR" x="240"/></g><g id="n39-5"><use href="#wR" x="292"/></g><g id="n39-6"><use href="#wR" x="344"/></g><g id="n39-7"><use href="#wR" x="396"/></g><g id="n39-8"><use href="#wR" x="448"/></g><g id="n39-9"><use href="#wR" x="500"/></g><g id="n39-10"><use href="#wR" x="552"/></g><g id="n39-11"><use href="#wR" x="604"/></g><g id="n39-12"><use href="#wR" x="656"/></g></g>
<g transform="translate(0 2090)"><g id="n40-1"><use href="#wL" x="84"/></g><g id="n40-2"><use href="#wL" x="136"/></g><g id="n40-3"><use href="#bL" x="188"/></g><g id="n40-4"><use href="#bL" x="240"/></g><g id="n40-5"><use href="#wL" x="292"/></g><g id="n40-6"><use href="#wL" x="344"/></g><g id="n40-7"><use href="#bL" x="396"/></g><g id="n40-8"><use href="#bL" x="448"/></g><g id="n40-9"><use href="#bL" x="500"/></g><g id="n40-10"><use href="#bL" x="552"/></g><g id="n40-11"><use href="#wL" x="604"/></g><g id="n40-12"><use href="#wL" x="656"/></g></g>
<g transform="translate(0 2142)"><g id="n41-1"><use href="#wR" x="84"/></g><g id="n41-2"><use href="#wR" x="136"/></g><g id="n41-3"><use href="#bR" x="188"/></g><g id="n41-4"><use href="#wR" x="240"/></g><g id="n41-5"><use href="#wR" x="292"/></g><g id="n41-6"><use href="#bR" x="344"/></g><g id="n41-7"><use href="#bR" x="396"/></g><g id="n41-8"><use href="#bR" x="448"/></g><g id="n41-9"><use href="#bR" x="500"/></g><g id="n41-10"><use href="#bR" x="552"/></g><g id="n41-11"><use href="#wR" x="604"/></g><g id="n41-12"><use href="#wR" x="656"/></g></g>
<g transform="translate(0 2194)"><g id="n42-1"><use href="#wL" x="84"/></g><g id="n42-2"><use href="#wL" x="136"/></g><g id="n42-3"><use href="#bL" x="188"/></g><g id="n42-4"><use href="#wL" x="240"/></g><g id="n42-5"><use href="#wL" x="292"/></g><g id="n42-6"><use href="#bL" x="344"/></g><g id="n42-7"><use href="#bL" x="396"/></g><g id="n42-8"><use href="#wL" x="448"/></g><g id="n42-9"><use href="#bL" x="500"/></g><g id="n42-10"><use href="#bL" x="552"/></g><g id="n42-11"><use href="#wL" x="604"/></g><g id="n42-12"><use href="#wL" x="656"/></g></g>
<g transform="translate(0 2246)"><g id="n43-1"><use href="#wR" x="84"/></g><g id="n43-2"><use href="#wR" x="136"/></g><g id="n43-3"><use href="#bR" x="188"/></g><g id="n43-4"><use href="#bR" x="240"/></g><g id="n43-5"><use href="#bR" x="292"/></g><g id="n43-6"><use href="#bR" x="344"/></g><g id="n43-7"><use href="#bR" x="396"/></g><g id="n43-8"><use href="#wR" x="448"/></g><g id="n43-9"><use href="#bR" x="500"/></g><g id="n43-10"><use href="#bR" x="552"/></g><g id="n43-11"><use href="#wR" x="604"/></g><g id="n43-12"><use href="#wR" x="656"/></g></g>
<g transform="translate(0 2298)"><g id="n44-1"><use href="#wL" x="84"/></g><g id="n44-2"><use href="#wL" x="136"/></g><g id="n44-3"><use href="#wL" x="188"/></g><g id="n44-4"><use href="#bL" x="240"/></g><g id="n44-5"><use href="#bL" x="292"/></g><g id="n44-6"><use href="#bL" x="344"/></g><g id="n44-7"><use href="#wL" x="396"/></g><g id="n44-8"><use href="#wL" x="448"/></g><g id="n44-9"><use href="#bL" x="500"/></g><g id="n44-10"><use href="#bL" x="552"/></g><g id="n44-11"><use href="#wL" x="604"/></g><g id="n44-12"><use href="#wL" x="656"/></g></g>
<g transform="translate(0 2350)"><g id="n45-1"><use href="#wR" x="84"/></g><g id="n45-2"><use href="#wR" x="136"/></g><g id="n45-3"><use href="#wR" x="188"/></g><g id="n45-4"><use href="#wR" x="240"/></g><g id="n45-5"><use href="#wR" x="292"/></g><g id="n45-6"><use href="#wR" x="344"/></g><g id="n45-7"><use href="#wR" x="396"/></g><g id="n45-8"><use href="#wR" x="448"/></g><g id="n45-9"><use href="#wR" x="500"/></g><g id="n45-10"><use href="#wR" x="552"/></g><g id="n45-11"><use href="#wR" x="604"/></g><g id="n45-12"><use href="#wR" x="656"/></g></g>
<g transform="translate(0 2402)"><g id="n46-1"><use href="#wL" x="84"/></g><g id="n46-2"><use href="#wL" x="136"/></g><g id="n46-3"><use href="#wL" x="188"/></g><g id="n46-4"><use href="#wL" x="240"/></g><g id="n46-5"><use href="#wL" x="292"/></g><g id="n46-6"><use href="#wL" x="344"/></g><g id="n46-7"><use href="#wL" x="396"/></g><g id="n46-8"><use href="#wL" x="448"/></g><g id="n46-9"><use href="#wL" x="500"/></g><g id="n46-10"><use href="#wL" x="552"/></g><g id="n46-11"><use href="#wL" x="604"/></g><g id="n46-12"><use href="#wL" x="656"/></g></g>
<g transform="translate(0 2454)"><g id="n47-1"><use href="#wR" x="84"/></g><g id="n47-2"><use href="#wR" x="136"/></g><g id="n47-3"><use href="#wR" x="188"/></g><g id="n47-4"><use href="#wR" x="240"/></g><g id="n47-5"><use href="#wR" x="292"/></g><g id="n47-6"><use href="#wR" x="344"/></g><g id="n47-7"><use href="#wR" x="396"/></g><g id="n47-8"><use href="#wR" x="448"/></g><g id="n47-9"><use href="#wR" x="500"/></g><g id="n47-10"><use href="#wR" x="552"/></g><g id="n47-11"><use href="#wR" x="604"/></g><g id="n47-12"><use href="#wR" x="656"/></g></g>
<g transform="translate(0 2506)"><g id="n48-1"><use href="#wL" x="84"/></g><g id="n48-2"><use href="#wL" x="136"/></g><g id="n48-3"><use href="#wL" x="188"/></g><g id="n48-4"><use href="#wL" x="240"/></g><g id="n48-5"><use href="#wL" x="292"/></g><g id="n48-6"><use href="#wL" x="344"/></g><g id="n48-7"><use href="#wL" x="396"/></g><g id="n48-8"><use href="#wL" x="448"/></g><g id="n48-9"><use href="#wL" x="500"/></g><g id="n48-10"><use href="#wL" x="552"/></g><g id="n48-11"><use href="#wL" x="604"/></g><g id="n48-12"><use href="#wL" x="656"/></g></g>
<g transform="translate(0 2558)"><g id="n49-1"><use href="#wR" x="84"/></g><g id="n49-2"><use href="#wR" x="136"/></g><g id="n49-3"><use href="#wR" x="188"/></g><g id="n49-4"><use href="#wR" x="240"/></g><g id="n49-5"><use href="#wR" x="292"/></g><g id="n49-6"><use href="#wR" x="344"/></g><g id="n49-7"><use href="#wR" x="396"/></g><g id="n49-8"><use href="#wR" x="448"/></g><g id="n49-9"><use href="#wR" x="500"/></g><g id="n49-10"><use href="#wR" x="552"/></g><g id="n49-11"><use href="#wR" x="604"/></g><g id="n49-12"><use href="#wR" x="656"/></g></g>
<g transform="translate(0 2610)"><g id="n50-1"><use href="#wL" x="84"/></g><g id="n50-2"><use href="#wL" x="136"/></g><g id="n50-3"><use href="#wL" x="188"/></g><g id="n50-4"><use href="#wL" x="240"/></g><g id="n50-5"><use href="#wL" x="292"/></g><g id="n50-6"><use href="#wL" x="344"/></g><g id="n50-7"><use href="#wL" x="396"/></g><g id="n50-8"><use href="#wL" x="448"/></g><g id="n50-9"><use href="#wL" x="500"/></g><g id="n50-10"><use href="#wL" x="552"/></g><g id="n50-11"><use href="#wL" x="604"/></g><g id="n50-12"><use href="#wL" x="656"/></g></g>
</g>
<text id="watermark" x="370" y="1341" text-anchor="middle" font-family="'Liberation Sans', Arial, sans-serif" font-weight="bold" font-size="14" fill="#505050" stroke="#fff" stroke-width="2.5" paint-order="stroke" stroke-linejoin="round">BRACELETBOOK.COM</text>
</svg>
